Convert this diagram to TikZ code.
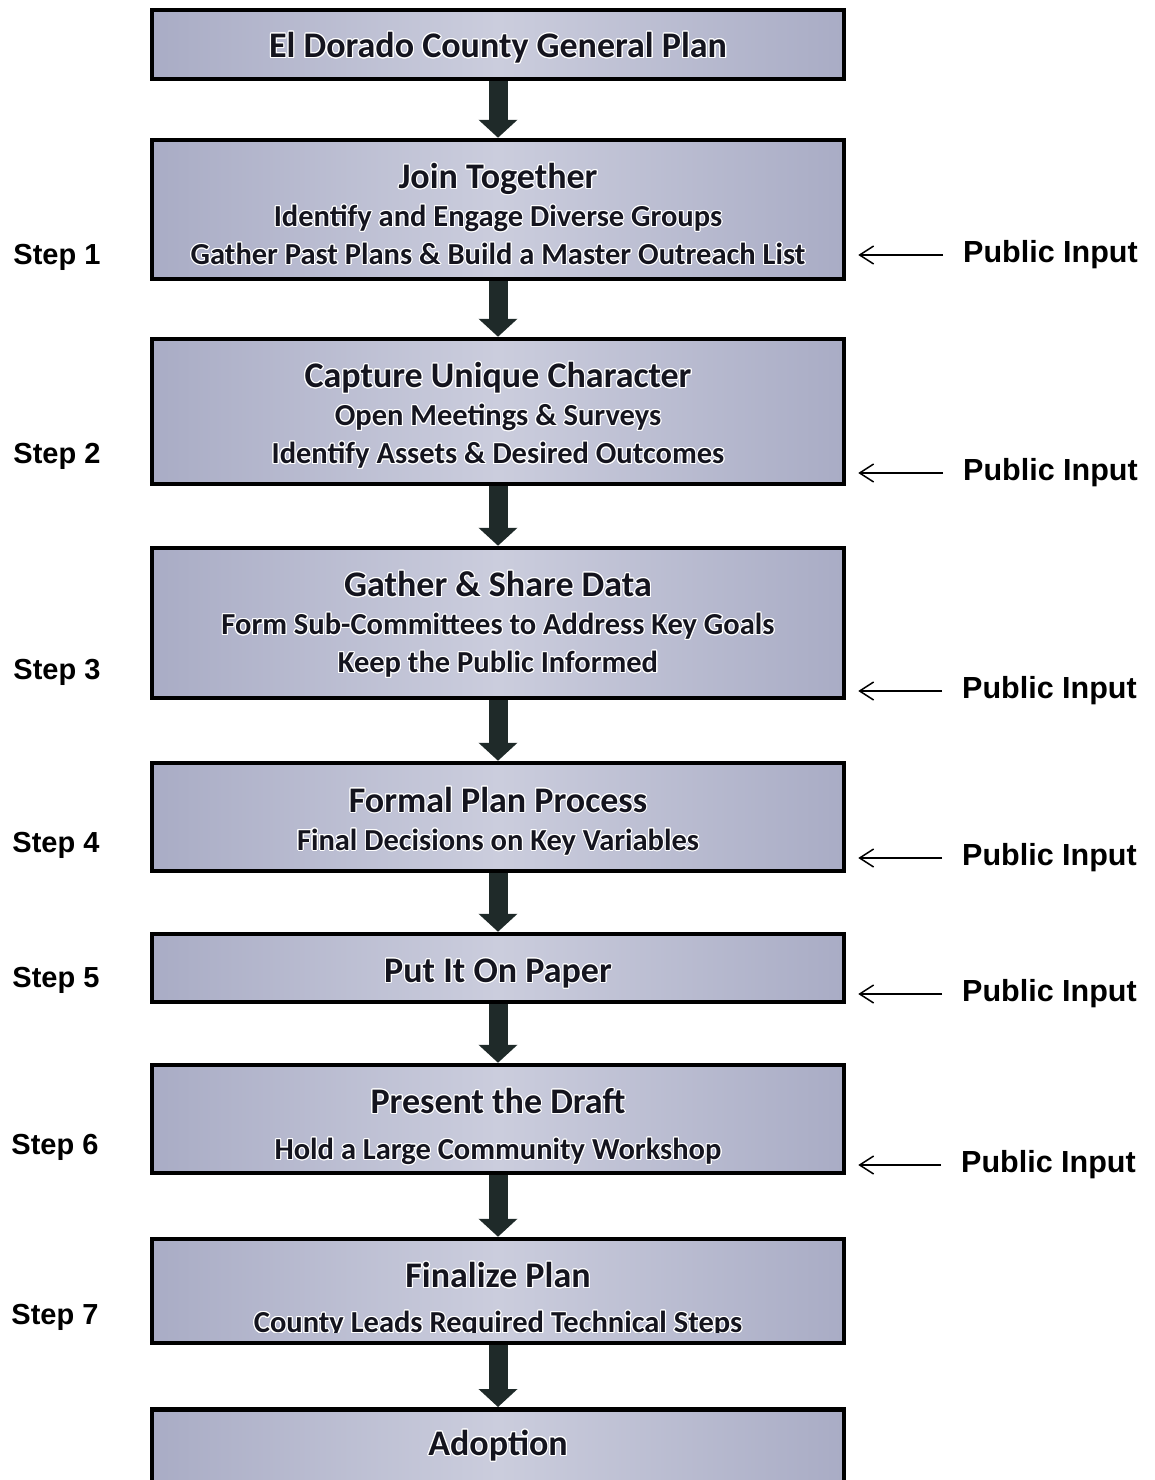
\documentclass[tikz,border=0pt]{standalone}
\usepackage{fontspec}
\setmainfont{Carlito}
\newfontfamily\arialfont{Liberation Sans}
\usepackage[copies]{contour}
\contourlength{1.1pt}
\usetikzlibrary{arrows.meta}

\definecolor{boxedge}{HTML}{A9ACC5}
\definecolor{boxmid}{HTML}{CBCDDD}
\definecolor{shaft}{HTML}{1F2A29}
\definecolor{ink}{HTML}{14141E}

\newcommand{\gl}[1]{\contour{white}{#1}}
\newcommand{\head}[1]{{\fontsize{36}{38}\selectfont\contour{white}{#1}}}

\tikzset{
  stepbox/.style={draw=black, line width=4.5pt, left color=boxedge, right color=boxedge,
    middle color=boxmid, minimum width=692pt, inner sep=0pt},
  boxtext/.style={align=center, text=ink, inner sep=0pt, font=\bfseries\fontsize{30.5}{38}\selectfont},
  down/.style={draw=shaft, line width=19pt, -{Triangle[width=38pt,length=18pt]}},
  steplabel/.style={font=\arialfont\bfseries\fontsize{29}{34}\selectfont, inner sep=0pt},
  inlabel/.style={font=\arialfont\bfseries\fontsize{30.5}{34}\selectfont, inner sep=10pt, anchor=west},
  inarrow/.style={line width=1.5pt, -{Straight Barb[length=14pt,width=18pt]}, shorten <=10pt, shorten >=12pt}
}

\begin{document}
\begin{tikzpicture}[x=1pt,y=-1pt]
  \useasboundingbox (0,0) rectangle (1155,1480);

  % the boxes
  \node[stepbox, minimum height=69pt] (b0) at (498,44.5) {};
  \node[stepbox, minimum height=139pt] (b1) at (498,209.5) {};
  \node[stepbox, minimum height=145pt] (b2) at (498,411.5) {};
  \node[stepbox, minimum height=150pt] (b3) at (498,623) {};
  \node[stepbox, minimum height=108pt] (b4) at (498,817) {};
  \node[stepbox, minimum height=68pt] (b5) at (498,968) {};
  \node[stepbox, minimum height=108pt] (b6) at (498,1119) {};
  \node[stepbox, minimum height=104pt] (b7) at (498,1291) {};
  \node[stepbox, minimum height=95pt, anchor=north] (b8) at (498,1407) {};

  % texts in the boxes
  \node[boxtext] (t0) at (498,48.5) {\head{El Dorado County General Plan}};
  \node[boxtext] (t1) at (498,214.5)
    {\head{Join Together}\\ \gl{Identify and Engage Diverse Groups}\\ \gl{Gather Past Plans \& Build a Master Outreach List}};
  \node[boxtext] (t2) at (498,416)
    {\head{Capture Unique Character}\\ \gl{Open Meetings \& Surveys}\\ \gl{Identify Assets \& Desired Outcomes}};
  \node[boxtext] (t3) at (498,625)
    {\head{Gather \& Share Data}\\ \gl{Form Sub-Committees to Address Key Goals}\\ \gl{Keep the Public Informed}};
  \node[boxtext] (t4) at (498,821.5)
    {\head{Formal Plan Process}\\ \gl{Final Decisions on Key Variables}};
  \node[boxtext] (t5) at (498,974) {\head{Put It On Paper}};
  \node[boxtext] (t6) at (498,1127)
    {\head{Present the Draft}\\[8pt] \gl{Hold a Large Community Workshop}};
  \begin{scope}
    \clip (b7.north west) rectangle (b7.east |- 0,1332);
    \node[boxtext] (t7) at (498,1300.5)
      {\head{Finalize Plan}\\[7pt] \gl{County Leads Required Technical Steps}};
  \end{scope}
  \node[boxtext] (t8) at (498,1446) {\head{Adoption}};

  % block arrows
  \draw[down] (b0.south) -- (b1.north);
  \draw[down] (b1.south) -- (b2.north);
  \draw[down] (b2.south) -- (b3.north);
  \draw[down] (b3.south) -- (b4.north);
  \draw[down] (b4.south) -- (b5.north);
  \draw[down] (b5.south) -- (b6.north);
  \draw[down] (b6.south) -- (b7.north);
  \draw[down] (b7.south) -- (b8.north);

  % steps
  \node[steplabel] (s1) at (57,257) {Step 1};
  \node[steplabel] (s2) at (57,456) {Step 2};
  \node[steplabel] (s3) at (57,672) {Step 3};
  \node[steplabel] (s4) at (56,845) {Step 4};
  \node[steplabel] (s5) at (56,980) {Step 5};
  \node[steplabel] (s6) at (55,1147) {Step 6};
  \node[steplabel] (s7) at (55,1317) {Step 7};

  % public input
  \node[inlabel] (p1) at (953,255) {Public Input};
  \node[inlabel] (p2) at (953,473) {Public Input};
  \node[inlabel] (p3) at (952,691) {Public Input};
  \node[inlabel] (p4) at (952,858) {Public Input};
  \node[inlabel] (p5) at (952,994) {Public Input};
  \node[inlabel] (p6) at (951,1165) {Public Input};
  \draw[inarrow] (p1.west) -- (p1.west -| b1.east);
  \draw[inarrow] (p2.west) -- (p2.west -| b2.east);
  \draw[inarrow] (p3.west) -- (p3.west -| b3.east);
  \draw[inarrow] (p4.west) -- (p4.west -| b4.east);
  \draw[inarrow] (p5.west) -- (p5.west -| b5.east);
  \draw[inarrow] (p6.west) -- (p6.west -| b6.east);
\end{tikzpicture}
\end{document}
